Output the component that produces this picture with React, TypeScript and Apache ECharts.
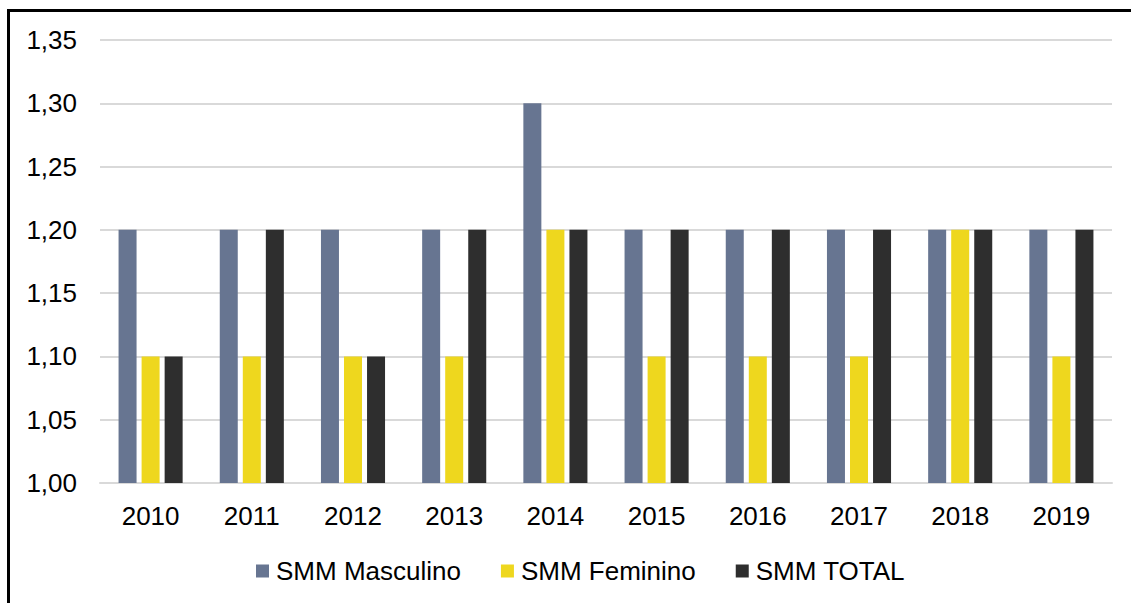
import React, { useEffect, useRef } from "react";
import * as echarts from "echarts";

const years = ["2010", "2011", "2012", "2013", "2014", "2015", "2016", "2017", "2018", "2019"];
const masculino = [1.2, 1.2, 1.2, 1.2, 1.3, 1.2, 1.2, 1.2, 1.2, 1.2];
const feminino = [1.1, 1.1, 1.1, 1.1, 1.2, 1.1, 1.1, 1.1, 1.2, 1.1];
const total = [1.1, 1.2, 1.1, 1.2, 1.2, 1.2, 1.2, 1.2, 1.2, 1.2];
const seriesNames = ["SMM Masculino", "SMM Feminino", "SMM TOTAL"];
const colors = ["#677591", "#EED71E", "#2E2E2E"];

export default function App() {
  const ref = useRef<HTMLDivElement>(null);
  useEffect(() => {
    if (!ref.current) return;
    const chart = echarts.init(ref.current, undefined, { renderer: "svg" });
    const font = "'Liberation Sans', Arial, sans-serif";
    const data = [masculino, feminino, total];
    chart.setOption({
      animation: false,
      textStyle: { fontFamily: font },
      grid: { left: 100, right: 19, top: 40, bottom: 120, containLabel: false },
      legend: {
        left: 251,
        top: 553,
        itemWidth: 13,
        itemHeight: 13,
        itemGap: 40,
        icon: "rect",
        textStyle: { fontSize: 26, color: "#000", fontFamily: font, padding: [0, 0, 0, 2] },
        data: seriesNames,
      },
      xAxis: {
        type: "category",
        data: years,
        axisLine: { lineStyle: { color: "#D9D9D9", width: 2 } },
        axisTick: { show: false },
        axisLabel: { fontSize: 26, color: "#000", margin: 20, fontFamily: font },
      },
      yAxis: {
        type: "value",
        min: 1.0,
        max: 1.35,
        interval: 0.05,
        axisLine: { show: false },
        axisTick: { show: false },
        splitLine: { lineStyle: { color: "#D9D9D9", width: 2 } },
        axisLabel: {
          fontSize: 26,
          color: "#000",
          margin: 23,
          fontFamily: font,
          formatter: (v: number) => v.toFixed(2).replace(".", ","),
        },
      },
      series: seriesNames.map((name, i) => ({
        name,
        type: "bar",
        data: data[i],
        barWidth: 18,
        barGap: "28%",
        itemStyle: { color: colors[i] },
      })),
    });
    return () => chart.dispose();
  }, []);
  return (
    <div style={{ position: "fixed", left: 0, top: 0, width: 1131, height: 603, overflow: "hidden", background: "#fff" }}>
      <div
        style={{
          position: "absolute",
          left: 7,
          top: 9,
          width: 1300,
          height: 800,
          border: "3px solid #000",
          boxSizing: "border-box",
        }}
      />
      <div ref={ref} style={{ position: "absolute", left: 0, top: 0, width: 1131, height: 603 }} />
    </div>
  );
}
